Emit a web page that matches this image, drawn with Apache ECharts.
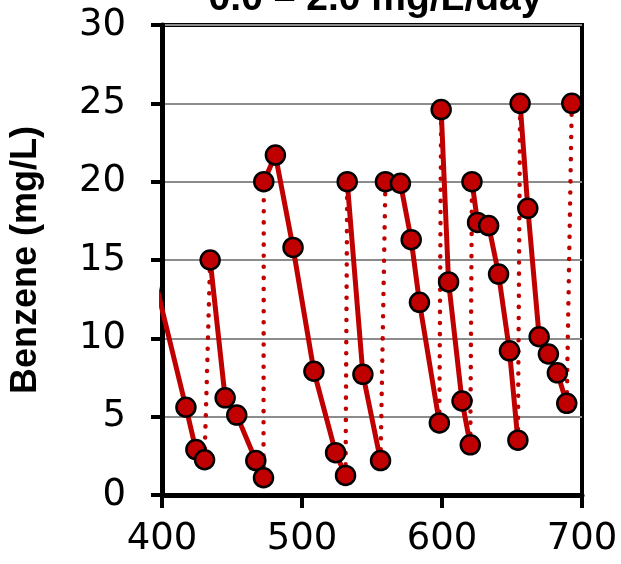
<!DOCTYPE html>
<html>
<head>
<meta charset="utf-8">
<script src="https://cdn.jsdelivr.net/npm/echarts@6/dist/echarts.min.js"></script>
<style>
  html, body { margin: 0; padding: 0; background: #fff; }
  #chart { width: 621px; height: 564px; }
</style>
</head>
<body>
<div id="chart"></div>
<script>
  // time (days) and benzene concentration
  var days = [392, 417.1, 424.2, 430.4,
    434.4, 445.1, 453.4, 467.0, 472.5,
    472.7, 481.0, 493.6, 508.5, 524.0, 531.1,
    532.3, 543.5, 556.1,
    559.6, 570.3, 578.0, 583.9, 598.1,
    599.4, 604.7, 614.3, 620.2,
    621.4, 625.4, 633.3, 640.4, 648.2, 654.2,
    655.8, 661.3, 669.4, 676.0, 682.4, 689.1,
    692.7];
  var benzene = [14.8, 5.6, 2.9, 2.25,
    15.0, 6.2, 5.1, 2.2, 1.1,
    20.0, 21.7, 15.8, 7.9, 2.7, 1.25,
    20.0, 7.7, 2.2,
    20.0, 19.9, 16.3, 12.3, 4.6,
    24.6, 13.6, 6.0, 3.2,
    20.0, 17.4, 17.2, 14.1, 9.2, 3.5,
    25.0, 18.3, 10.1, 9.0, 7.8, 5.85,
    25.0];
  // index where each new spike (re-addition) begins
  var cycleStarts = [0, 4, 9, 15, 18, 23, 27, 33, 39];

  var xTicks = [400, 500, 600, 700];
  var yTicks = [0, 5, 10, 15, 20, 25, 30];

  var red = '#C00000';
  var series = [];

  for (var c = 0; c < cycleStarts.length; c++) {
    var from = cycleStarts[c];
    var to = c + 1 < cycleStarts.length ? cycleStarts[c + 1] : days.length;
    var pts = [];
    for (var i = from; i < to; i++) pts.push([days[i], benzene[i]]);
    series.push({
      type: 'line',
      z: 3,
      data: pts,
      symbol: 'circle',
      symbolSize: 19,
      lineStyle: { color: red, width: 5 },
      itemStyle: { color: red, borderColor: '#000', borderWidth: 2.5 },
      emphasis: { disabled: true },
      animation: false
    });
    // dotted jump from the last point of the previous cycle
    if (from > 0) {
      series.push({
        type: 'line',
        z: 2,
        data: [[days[from - 1], benzene[from - 1]], [days[from], benzene[from]]],
        showSymbol: false,
        symbol: 'none',
        lineStyle: { color: red, width: 4.5, type: [0.1, 11], cap: 'round' },
        emphasis: { disabled: true },
        animation: false
      });
    }
  }

  var chart = echarts.init(document.getElementById('chart'));
  chart.setOption({
    animation: false,
    grid: {
      left: 161, right: 39, top: 25, bottom: 69,
      show: true, borderColor: '#000', borderWidth: 4, backgroundColor: 'transparent'
    },
    xAxis: {
      type: 'value',
      min: xTicks[0], max: xTicks[xTicks.length - 1], interval: 100,
      splitLine: { show: false },
      axisLine: { lineStyle: { color: '#000', width: 5 } },
      axisTick: { length: 13, lineStyle: { color: '#000', width: 4 } },
      axisLabel: { color: '#000', fontFamily: 'DejaVu Sans', fontSize: 37, margin: 26 }
    },
    yAxis: {
      type: 'value',
      min: yTicks[0], max: yTicks[yTicks.length - 1], interval: 5,
      name: 'Benzene (mg/L)',
      nameLocation: 'middle',
      nameGap: 118,
      nameTextStyle: { color: '#000', fontFamily: 'Liberation Sans', fontWeight: 'bold', fontSize: 36 },
      splitLine: { lineStyle: { color: '#8c8c8c', width: 2 } },
      axisLine: { lineStyle: { color: '#000', width: 5 } },
      axisTick: { length: 11, lineStyle: { color: '#000', width: 4 } },
      axisLabel: { color: '#000', fontFamily: 'DejaVu Sans', fontSize: 37, margin: 36 }
    },
    graphic: [{
      type: 'text',
      left: 175,
      top: -20,
      style: {
        text: '~ 0.0 – 2.0 mg/L/day',
        fill: '#000',
        font: 'bold 39px "Liberation Sans"'
      }
    }],
    series: series
  });
</script>
</body>
</html>
